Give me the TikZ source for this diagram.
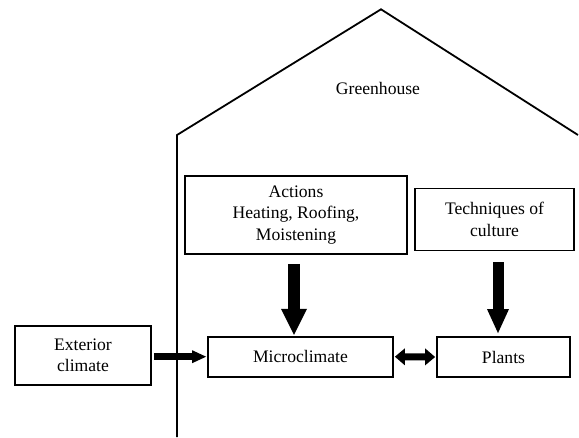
\documentclass[tikz,border=0pt]{standalone}
\usepackage{fontspec}
\setmainfont{Liberation Serif}
\usetikzlibrary{arrows.meta}
\begin{document}
\begin{tikzpicture}[x=1pt,y=-1pt,
  txt/.style={font=\fontsize{17.6}{21.5}\selectfont},
  box/.style={txt, draw, line width=1.8pt, inner sep=2pt, align=center},
  outline/.style={line width=1.8pt, line join=miter},
  fatdown/.style={line width=12pt, -{Triangle[length=26pt,width=26pt,line width=0pt]}},
  fatright/.style={line width=6.8pt, -{Triangle[length=14pt,width=13pt,line width=0pt]}},
  fatboth/.style={line width=7pt, {Triangle[length=10pt,width=17pt,line width=0pt]}-{Triangle[length=10pt,width=17pt,line width=0pt]}}
]
\useasboundingbox (0,0) rectangle (579,437);

% house outline: left wall and roof
\draw[outline] (177,437) -- (177,135) -- (381,9.3) -- (578,135);
\node[txt] (gh) at (378,88) {Greenhouse};

% boxes
\node[box, minimum width=222pt, minimum height=78pt] (act) at (296,215)
  {Actions\\Heating, Roofing,\\Moistening};
\node[box, minimum width=159pt, minimum height=62pt] (tech) at (494.5,219.5)
  {Techniques of\\culture};
\node[box, minimum width=136pt, minimum height=59pt] (ext) at (83,355.5)
  {Exterior\\climate};
\node[box, minimum width=185pt, minimum height=40pt] (micro) at (300.5,356.7)
  {Microclimate};
\node[box, minimum width=133pt, minimum height=40pt] (plants) at (503.5,357)
  {Plants};

% connectors
\draw[fatdown, shorten <=9pt, shorten >=1pt]
  ([xshift=-2pt]act.south) -- ([xshift=-2pt]act.south |- micro.north);
\draw[fatdown, line width=11pt, -{Triangle[length=24pt,width=22pt,line width=0pt]}, shorten <=11pt, shorten >=3pt]
  ([xshift=3.5pt]tech.south) -- ([xshift=3.5pt]tech.south |- plants.north);
\draw[fatright, shorten <=2pt, shorten >=1pt] (ext.east |- micro.west) -- (micro.west);
\draw[fatboth, shorten <=1pt, shorten >=1pt] (micro.east) -- (plants.west);
\end{tikzpicture}
\end{document}
